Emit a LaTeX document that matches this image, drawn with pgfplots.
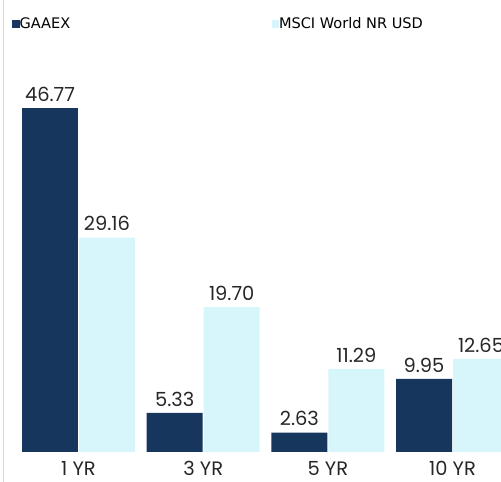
\documentclass[border=0pt]{standalone}
\usepackage{pgfplots}
\pgfplotsset{compat=1.18}
\usepackage{fontspec}
\setmainfont{Poppins}
\newfontfamily\legendfont{DejaVu Sans}
\definecolor{navy}{RGB}{23,54,93}
\definecolor{ice}{RGB}{215,246,251}
\definecolor{lgray}{RGB}{217,217,217}
\begin{document}
\begin{tikzpicture}[x=1bp,y=1bp]
\useasboundingbox (0,0) rectangle (501,482);
\draw[lgray, line width=1.2bp] (3.5,0) -- (3.5,482);
\begin{axis}[
  at={(3bp,30bp)}, anchor=south west,
  scale only axis, width=498bp, height=422bp,
  xmin=-0.6056, xmax=3.389, ymin=0, ymax=57.38,
  /pgf/number format/assume math mode=true,
  axis line style={draw=none},
  ytick=\empty,
  xtick={0,1,2,3},
  xticklabels={1 YR,3 YR,5 YR,10 YR},
  xtick style={draw=none},
  major tick length=0pt,
  xticklabel style={anchor=base, yshift=-24bp, font=\fontsize{19.5}{20}\selectfont, text=black!85, inner sep=0pt},
  ybar, bar width=0.449,
  nodes near coords={\pgfmathprintnumber[fixed,fixed zerofill,precision=2,assume math mode=true]{\pgfplotspointmeta}},
  nodes near coords style={anchor=base, yshift=6.7bp, font=\fontsize{19.5}{20}\selectfont, text=black!85, inner sep=0pt},
  legend columns=2,
  legend image code/.code={\fill[#1] (0bp,0bp) rectangle (7.5bp,8.5bp);},
  legend style={draw=none, fill=none, at={(rel axis cs:0,1)}, anchor=south west,
    xshift=9bp, yshift=0bp, inner sep=0pt, outer sep=0pt,
    font=\legendfont\fontsize{14.6}{16}\selectfont,
    column sep=0pt, nodes={inner sep=0pt, anchor=base west}},
]
\addplot[fill=navy, draw=none, bar shift=-0.2286] coordinates {(0,46.77) (1,5.33) (2,2.63) (3,9.95)};
\addlegendentry{\makebox[252bp][l]{GAAEX}}
\addplot[fill=ice, draw=none, bar shift=0.2286] coordinates {(0,29.16) (1,19.70) (2,11.29) (3,12.65)};
\addlegendentry{MSCI World NR USD}
\end{axis}
\end{tikzpicture}
\end{document}
